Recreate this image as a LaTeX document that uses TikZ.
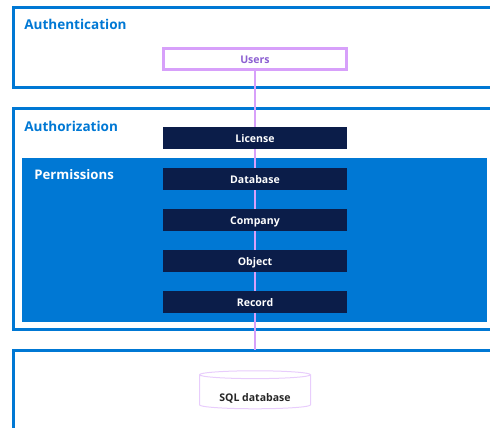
\documentclass[tikz,border=0pt]{standalone}
\usepackage{fontspec}
\setmainfont{Open Sans}
\usetikzlibrary{shapes.geometric}
\definecolor{azure}{RGB}{0,120,212}
\definecolor{navybox}{RGB}{11,29,73}
\definecolor{lilac}{RGB}{215,160,250}
\definecolor{lilacpale}{RGB}{232,205,252}
\definecolor{lilactext}{RGB}{140,95,210}
\tikzset{
    frameline/.style={draw=azure, line width=3*0.02cm},
    linkline/.style={draw=lilac, line width=2.8*0.02cm},
    heading/.style={anchor=west, inner sep=0pt, text=azure, font=\fontsize{7.7}{10}\selectfont\bfseries},
    levelbox/.style={fill=navybox, text=white, minimum width=184*0.02cm, minimum height=22*0.02cm, inner sep=0pt, text height=5.6pt, text depth=0pt, font=\fontsize{6}{7}\selectfont\bfseries}
}
\begin{document}
\begin{tikzpicture}[x=0.02cm,y=0.02cm]
    \useasboundingbox (0,0) rectangle (490,428);

    % Outer frames, open on the right
    \draw[frameline] (490,420) -- (13,420) -- (13,340) -- (490,340);
    \draw[frameline] (490,319) -- (13,319) -- (13,98) -- (490,98);
    \draw[frameline] (490,77) -- (13,77) -- (13,0);

    % Permissions panel
    \fill[azure] (22,270) rectangle (487,106);

    % Headings
    \node[heading] (authn) at (24,404) {Authentication};
    \node[heading] (authz) at (24,302) {Authorization};
    \node[heading, text=white, font=\fontsize{7.5}{10}\selectfont\bfseries] (perms) at (34,253) {Permissions};

    % Users box
    \node[draw=lilac, line width=2.2*0.02cm, fill=white, text=lilactext, minimum width=183*0.02cm, minimum height=21*0.02cm, inner sep=0pt, text height=5.6pt, text depth=0pt, font=\fontsize{6}{7}\selectfont\bfseries] (users) at (255,369) {Users};

    % Levels
    \node[levelbox] (license) at (255,290) {License};
    \node[levelbox] (database) at (255,249) {Database};
    \node[levelbox] (company) at (255,208) {Company};
    \node[levelbox] (object) at (255,167) {Object};
    \node[levelbox] (record) at (255,126) {Record};

    % Connector down to the bottom frame
    \coordinate (sqltop) at (255,78);
    \draw[linkline] (users) -- (license);
    \draw[linkline] (license) -- (database);
    \draw[linkline] (database) -- (company);
    \draw[linkline] (company) -- (object);
    \draw[linkline] (object) -- (record);
    \draw[linkline] (record) -- (sqltop);

    % SQL cylinder
    \node[cylinder, shape border rotate=90, aspect=0.11, draw=lilacpale, line width=0.02cm, minimum width=111*0.02cm, minimum height=38*0.02cm, inner sep=0pt, text height=11pt, text depth=0pt, text=black!85, font=\fontsize{6}{7}\selectfont\bfseries] (sqldb) at (255,36) {SQL database};
\end{tikzpicture}
\end{document}
